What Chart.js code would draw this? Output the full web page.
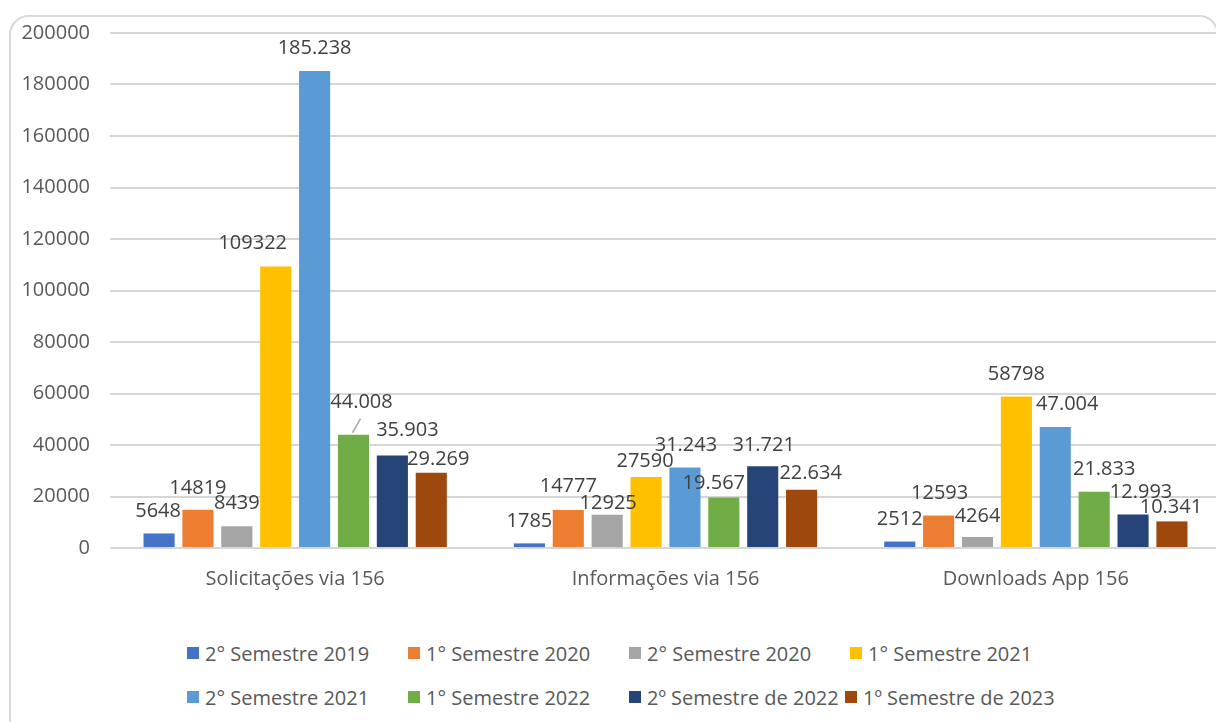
<!DOCTYPE html>
<html>
<head>
<meta charset="utf-8">
<script src="https://cdn.jsdelivr.net/npm/chart.js@4/dist/chart.umd.min.js"></script>
<style>
  html, body { margin: 0; padding: 0; overflow: hidden; background: #fff; }
  body { width: 1216px; height: 722px; position: relative; font-family: "Open Sans", sans-serif; }
  .frame { position: absolute; left: 9px; top: 15px; width: 1210px; height: 740px; box-sizing: border-box;
           border: 2px solid #d9d9d9; border-radius: 20px; }
  .wrap { position: absolute; left: 0; top: 0; width: 1221px; height: 600px; }
  .legend { position: absolute; left: 187px; top: 631px; font-size: 20px; color: #595959; }
  .legend .row { display: flex; height: 44px; align-items: center; }
  .legend .item { display: flex; align-items: center; white-space: nowrap; }
  .legend .box { width: 12px; height: 12px; margin-right: 6px; }
</style>
</head>
<body>
<div class="frame"></div>
<div class="wrap"><canvas id="myChart"></canvas></div>
<div class="legend" id="legend"></div>
<script>
const categories = ['Solicitações via 156', 'Informações via 156', 'Downloads App 156'];

const seriesNames = [
  '2° Semestre 2019', '1° Semestre 2020', '2° Semestre 2020', '1° Semestre 2021',
  '2° Semestre 2021', '1° Semestre 2022', '2º Semestre de 2022', '1º Semestre de 2023'
];

const sem2019b = [5648, 1785, 2512];
const sem2020a = [14819, 14777, 12593];
const sem2020b = [8439, 12925, 4264];
const sem2021a = [109322, 27590, 58798];
const sem2021b = [185238, 31243, 47004];
const sem2022a = [44008, 19567, 21833];
const sem2022b = [35903, 31721, 12993];
const sem2023a = [29269, 22634, 10341];

// label text as shown in the source (some with a dot separator, some without)
const withDots = [false, false, false, false, true, true, true, true];

const yTicks = [0, 20000, 40000, 60000, 80000, 100000, 120000, 140000, 160000, 180000, 200000];

const colors = ['#4472C4', '#ED7D31', '#A5A5A5', '#FFC000', '#5B9BD5', '#70AD47', '#264478', '#9E480E'];

// hand nudges of the data labels [dx, dy] per series per category
const nudge = [
  [[-1, 0], [0, 0], [0, 0]],
  [[0, 0], [0, -2], [1, 0]],
  [[0, -1], [1, 11], [0, 1]],
  [[-23, -1], [-1, 6], [0, 0]],
  [[0, -1], [1, 0], [12, -1]],
  [[8, -10], [-10, 8], [10, 0]],
  [[15, -3], [1, 1], [8, 0]],
  [[7, 9], [9, 6], [-1, 8]]
];

const allSeries = [sem2019b, sem2020a, sem2020b, sem2021a, sem2021b, sem2022a, sem2022b, sem2023a];

function fmt(v, dots) {
  const s = String(v);
  return dots ? s.replace(/\B(?=(\d{3})+(?!\d))/g, '.') : s;
}

const barLabels = {
  id: 'barLabels',
  afterDatasetsDraw(chart) {
    const ctx = chart.ctx;
    ctx.save();
    ctx.font = '20px "Open Sans"';
    ctx.fillStyle = '#404040';
    ctx.textAlign = 'center';
    ctx.textBaseline = 'middle';
    chart.data.datasets.forEach((ds, i) => {
      chart.getDatasetMeta(i).data.forEach((bar, j) => {
        const [dx, dy] = nudge[i][j];
        ctx.fillText(fmt(ds.data[j], withDots[i]), bar.x + dx, bar.y - 22 + dy);
        if (i === 5 && j === 0) {
          // leader line
          ctx.strokeStyle = '#a6a6a6';
          ctx.lineWidth = 1.5;
          ctx.beginPath();
          ctx.moveTo(bar.x - 1, bar.y - 2);
          ctx.lineTo(bar.x + 7, bar.y - 16);
          ctx.stroke();
        }
      });
    });
    ctx.restore();
  }
};

const data = {
  labels: categories,
  datasets: allSeries.map((vals, i) => ({
    label: seriesNames[i],
    data: vals,
    backgroundColor: colors[i],
    borderWidth: 0,
    categoryPercentage: 0.84,
    barPercentage: 0.8
  }))
};

const config = {
  type: 'bar',
  data: data,
  options: {
    responsive: true,
    maintainAspectRatio: false,
    animation: false,
    layout: { padding: { top: 33, right: 0, bottom: 0, left: 0 } },
    plugins: {
      legend: { display: false },
      tooltip: { enabled: false }
    },
    scales: {
      x: {
        grid: { display: false },
        border: { display: false },
        ticks: { color: '#595959', font: { family: 'Open Sans', size: 20 }, padding: 11 },
        afterFit(scale) { scale.height = 52; }
      },
      y: {
        min: 0,
        max: 200000,
        afterBuildTicks(scale) { scale.ticks = yTicks.map(v => ({ value: v })); },
        grid: { color: '#d6d6d6', lineWidth: 2, drawTicks: false },
        border: { display: false },
        ticks: {
          color: '#595959',
          font: { family: 'Open Sans', size: 20 },
          padding: 20,
          callback: v => String(v)
        },
        afterFit(scale) { scale.width = 110; }
      }
    }
  },
  plugins: [barLabels]
};

const myChart = new Chart(document.getElementById('myChart'), config);

// legend in the Excel layout: two rows of four
const legendEl = document.getElementById('legend');
const colWidths = [[221, 221, 221, 221], [221, 221, 216, 221]];
legendEl.innerHTML = [0, 1].map(r =>
  `<div class="row">` + [0, 1, 2, 3].map(c => {
    const i = r * 4 + c;
    return `<div class="item" style="width:${colWidths[r][c]}px"><span class="box" style="background:${colors[i]}"></span>${seriesNames[i]}</div>`;
  }).join('') + `</div>`
).join('');
</script>
</body>
</html>
